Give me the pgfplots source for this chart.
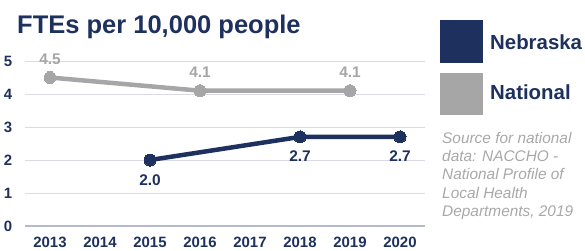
\documentclass[border=0pt]{standalone}
\usepackage{fontspec}
\setmainfont{Liberation Sans}
\usepackage{pgfplots}
\pgfplotsset{compat=1.18}
\definecolor{navy}{RGB}{29,48,94}
\definecolor{natgray}{RGB}{166,166,166}
\definecolor{gridc}{RGB}{218,218,228}
\definecolor{axc}{RGB}{180,185,205}
\definecolor{srcgray}{RGB}{168,168,168}
\begin{document}
\begin{tikzpicture}[x=1bp,y=1bp]
\path[use as bounding box] (0,0) rectangle (585,250);
\begin{axis}[
  at={(25bp,24bp)}, anchor=south west,
  scale only axis, width=400bp, height=165bp,
  xmin=2012.5, xmax=2020.5, ymin=0, ymax=5,
  xtick={2013,...,2020}, ytick={0,...,5},
  ymajorgrids, major grid style={draw=gridc, line width=1bp},
  axis x line*=bottom, axis y line*=left,
  x axis line style={-, draw=axc, line width=1.2bp},
  y axis line style={draw=none},
  major tick length=0pt, tick style={draw=none},
  /pgf/number format/assume math mode=true,
  /pgf/number format/1000 sep={},
  xticklabel style={font=\fontsize{15}{18}\selectfont\bfseries, text=navy, anchor=north, inner sep=0pt, yshift=-10.5bp},
  yticklabel style={font=\fontsize{15}{18}\selectfont\bfseries, text=navy, anchor=east, inner sep=0pt, xshift=-12.5bp},
  clip=false,
]
\addplot[natgray, line width=4.5bp, mark=*, mark size=6bp, mark options={line width=0pt, fill=natgray},
  point meta=y,
  nodes near coords={\pgfmathprintnumber[fixed,fixed zerofill,precision=1]{\pgfplotspointmeta}},
  every node near coord/.style={font=\fontsize{15.5}{18}\selectfont\bfseries, text=natgray, anchor=base, inner sep=0pt, yshift=13.5bp}]
  coordinates {(2013,4.5) (2016,4.1) (2019,4.1)};
\addplot[navy, line width=4.5bp, mark=*, mark size=6bp, mark options={line width=0pt, fill=navy},
  point meta=y,
  nodes near coords={\pgfmathprintnumber[fixed,fixed zerofill,precision=1]{\pgfplotspointmeta}},
  every node near coord/.style={font=\fontsize{15.5}{18}\selectfont\bfseries, text=navy, anchor=base, inner sep=0pt, yshift=-25bp}]
  coordinates {(2015,2.0) (2018,2.7) (2020,2.7)};
\end{axis}
\node[anchor=base west, inner sep=0pt, font=\fontsize{25.5bp}{30bp}\selectfont\bfseries, text=navy] at (17,216.7) {FTEs per 10,000 people};
\fill[navy] (440,187) rectangle (483,230);
\fill[natgray] (440,135) rectangle (483,177.5);
\node[anchor=base west, inner sep=0pt, font=\fontsize{20.4bp}{24bp}\selectfont\bfseries, text=navy] at (490,200.7) {Nebraska};
\node[anchor=base west, inner sep=0pt, font=\fontsize{20.4bp}{24bp}\selectfont\bfseries, text=navy] at (490,150.7) {National};
\begin{scope}[every node/.style={anchor=base west, inner sep=0pt, font=\fontsize{15.4bp}{18bp}\selectfont\itshape, text=srcgray}]
\node at (442,106.5) {Source for national};
\node at (442,88.3) {data: NACCHO -};
\node at (442,70.1) {National Profile of};
\node at (442,52) {Local Health};
\node at (442,33.8) {Departments, 2019};
\end{scope}
\end{tikzpicture}
\end{document}
